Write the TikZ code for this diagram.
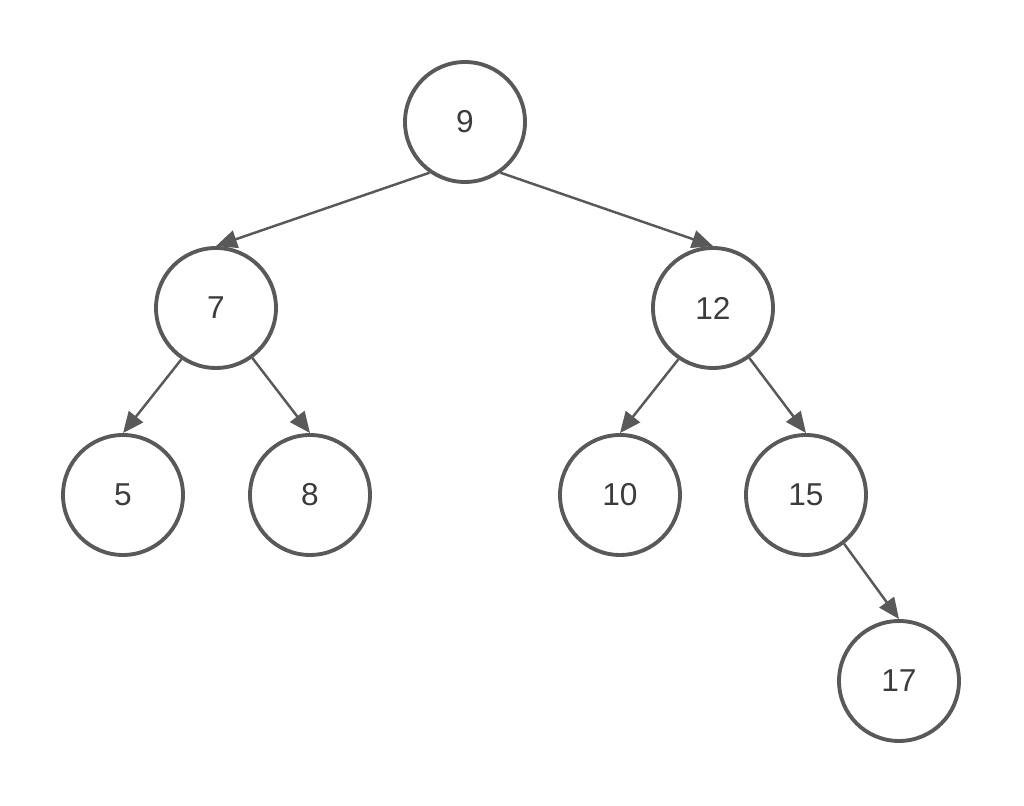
\documentclass[tikz,border=0pt]{standalone}
\usepackage{fontspec}
\setmainfont{Liberation Sans}
\usetikzlibrary{
    arrows.meta,
    positioning
}
\definecolor{treegray}{HTML}{595959}
\definecolor{keygray}{HTML}{3C3C3C}
\tikzset{
    % --- Tree node (circle with key) ---
    tree node/.style = {
        circle, draw=treegray, line width=2.2pt,
        minimum size=2.4cm, inner sep=0pt,
        font=\fontsize{18}{21}\selectfont, text=keygray
    },
    % --- Parent -> child link ---
    link/.style = {
        -{Triangle[length=0.42cm, width=0.36cm]},
        draw=treegray, line width=1.4pt
    }
}
\begin{document}
\begin{tikzpicture}

% ---------------------------------------------------------
% Canvas
% ---------------------------------------------------------
\useasboundingbox (0, 0) rectangle (20.48, -16.12);

% ---------------------------------------------------------
% Tree nodes
% ---------------------------------------------------------
\node[tree node] (N9)  at (9.30, -2.44)   {9};
\node[tree node] (N7)  at (4.32, -6.16)   {7};
\node[tree node] (N12) at (14.26, -6.16)  {12};
\node[tree node] (N5)  at (2.46, -9.90)   {5};
\node[tree node] (N8)  at (6.20, -9.90)   {8};
\node[tree node] (N10) at (12.40, -9.90)  {10};
\node[tree node] (N15) at (16.12, -9.90)  {15};
\node[tree node] (N17) at (17.98, -13.62) {17};

% ---------------------------------------------------------
% Links
% ---------------------------------------------------------
\draw[link] (N9.235)  -- (N7.north);
\draw[link] (N9.305)  -- (N12.north);
\draw[link] (N7.236)  -- (N5.north);
\draw[link] (N7.306)  -- (N8.north);
\draw[link] (N12.236) -- (N10.north);
\draw[link] (N12.306) -- (N15.north);
\draw[link] (N15.308) -- (N17.north);

\end{tikzpicture}
\end{document}
